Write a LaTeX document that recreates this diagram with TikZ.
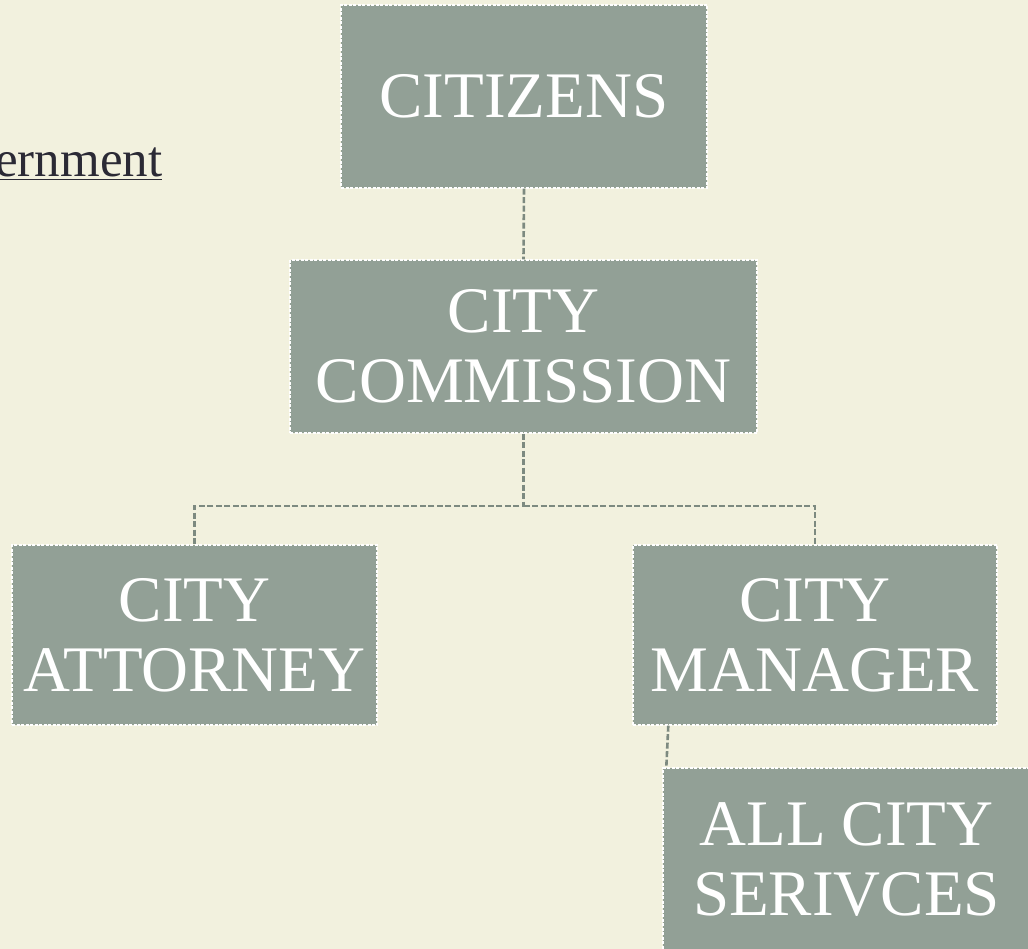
\documentclass[tikz,border=0pt]{standalone}
\usepackage{fontspec}
\setmainfont{Liberation Serif}
\definecolor{bgcream}{HTML}{F2F1DE}
\definecolor{boxgreen}{HTML}{92A096}
\definecolor{linkgray}{HTML}{7D8A80}
\definecolor{inkdark}{HTML}{2B2A35}
\tikzstyle{orgbox} = [rectangle, fill=boxgreen, draw=white, line width=1.4pt,
	dash pattern=on 3pt off 1.5pt, text=white, align=center, inner sep=0pt,
	font=\fontsize{65}{70}\selectfont]
\tikzstyle{link} = [linkgray, line width=2.6pt, dash pattern=on 6pt off 2.5pt]

\begin{document}
\begin{tikzpicture}[x=1pt, y=-1pt]
	\clip (0,0) rectangle (1028,949);
	\fill[bgcream] (0,0) rectangle (1028,949);
	\node[anchor=base west, text=inkdark, font=\fontsize{51}{54}\selectfont,
		inner sep=0pt] (title) at (-5,177) {\underline{ernment}};
	\node[orgbox, minimum width=366, minimum height=183] (citizens) at (524,96.5) {CITIZENS};
	\node[orgbox, minimum width=467, minimum height=173] (commission) at (523.5,346.5) {CITY\\COMMISSION};
	\node[orgbox, minimum width=365, minimum height=180] (attorney) at (194.5,635) {CITY\\ATTORNEY};
	\node[orgbox, minimum width=364, minimum height=180] (manager) at (815,635) {CITY\\MANAGER};
	\node[orgbox, minimum width=367, minimum height=182] (services) at (846.5,859) {ALL CITY\\SERIVCES};
	\coordinate (split) at (523.5,506);
	\draw[link] (citizens.south) -- (commission.north);
	\draw[link] (commission.south) -- (split) -| (attorney.north);
	\draw[link] (split) -| (manager.north);
	\draw[link] ([xshift=36pt]manager.south west) -- ([xshift=4pt]services.north west);
\end{tikzpicture}
\end{document}
